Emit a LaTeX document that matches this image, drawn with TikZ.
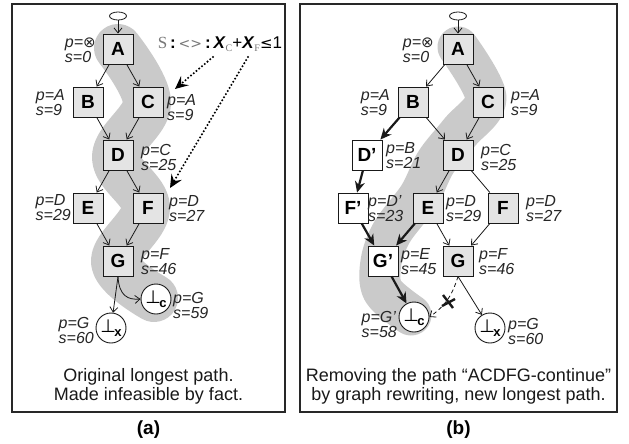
\documentclass[tikz,border=0pt]{standalone}
\usepackage{fontspec}
\setmainfont{Liberation Sans}
\newfontfamily\dejavu{DejaVu Sans}
\newfontfamily\serfont{Liberation Serif}
\usetikzlibrary{arrows.meta,shapes.geometric,calc}
\definecolor{boxgray}{RGB}{228,228,228}
\definecolor{bandgray}{RGB}{202,202,202}
\definecolor{framec}{RGB}{40,40,40}
\definecolor{txtgray}{RGB}{120,120,120}
\newcommand\perpsub[1]{{\dejavu\fontsize{18}{18}\selectfont ⊥}\kern-1.5pt\raisebox{-4pt}{\fontsize{13}{13}\selectfont\bfseries #1}}
\begin{document}
\begin{tikzpicture}[x=1pt,y=-1pt,
  box/.style={draw=black!90, line width=0.9pt, fill=boxgray, minimum size=30pt, inner sep=0pt, font=\fontsize{19}{19}\selectfont\bfseries},
  wbox/.style={box, fill=white},
  circ/.style={circle, draw=black!90, line width=0.9pt, fill=white, minimum size=30pt, inner sep=0pt},
  startnode/.style={ellipse, draw=black!90, line width=0.8pt, fill=white, minimum width=17pt, minimum height=8pt, inner sep=0pt},
  lbl/.style={inner sep=1pt, align=left, font=\fontsize{16}{15}\selectfont\itshape, text=black!85},
  edge/.style={line width=0.8pt, draw=black!90, -{Straight Barb[length=5pt,width=8pt,line width=0.8pt]}},
  plain/.style={line width=0.8pt, draw=black!90},
  thickedge/.style={line width=2.2pt, draw=black!90, -{Stealth[length=11pt,width=10pt,inset=3.5pt]}},
  dotarrow/.style={line width=2.3pt, dash pattern=on 0pt off 3.6pt, line cap=round, -{Stealth[length=13pt,width=12pt,inset=5pt,line cap=butt]}},
  band/.style={draw=bandgray, line width=48pt, line cap=round, line join=round},
  frame/.style={draw=framec, line width=1.2pt},
  caption/.style={align=center, font=\fontsize{18}{19}\selectfont, text=black!90},
  sublbl/.style={font=\fontsize{19}{19}\selectfont\bfseries}
]
\useasboundingbox (0,0) rectangle (629,444);
\fill[white] (0,0) rectangle (629,444);

% ---------- highlight bands ----------
\draw[band] plot[smooth, tension=0.6] coordinates {(118,48) (147,103) (116,157) (146,208) (115,262) (154,298)};
\draw[band, line width=41pt] plot[smooth, tension=0.55] coordinates {(458,47) (486,98) (460,132) (436,162) (419,196) (392,232) (381,262) (383,291) (411,315)};

% ---------- frames ----------
\draw[frame] (12,4) rectangle (285,412);
\draw[frame] (300,4) rectangle (617,412);

% ---------- left panel ----------
\node[startnode] (s1) at (118,16) {};
\node[box] (A1) at (118,49) {A};
\node[box] (B1) at (88,102) {B};
\node[box] (C1) at (148,102) {C};
\node[box] (D1) at (118,155) {D};
\node[box] (E1) at (88,208) {E};
\node[box] (F1) at (148,208) {F};
\node[box] (G1) at (118,261) {G};
\node[circ] (c1) at (156,299) {\perpsub{c}};
\node[circ] (x1) at (111,328) {\perpsub{x}};

\node[lbl,anchor=east] (lA1) at (97,50) {p={\dejavu\upshape\fontsize{15}{15}\selectfont ⊗}\\s=0};
\node[lbl,anchor=east] (lB1) at (66,103) {p=A\\s=9};
\node[lbl,anchor=west] (lC1) at (166,108) {p=A\\s=9};
\node[lbl,anchor=west] (lD1) at (140,157) {p=C\\s=25};
\node[lbl,anchor=east] (lE1) at (72,208) {p=D\\s=29};
\node[lbl,anchor=west] (lF1) at (168,209) {p=D\\s=27};
\node[lbl,anchor=west] (lG1) at (140,262) {p=F\\s=46};
\node[lbl,anchor=west] (lc1) at (172,305) {p=G\\s=59};
\node[lbl,anchor=east] (lx1) at (95,330) {p=G\\s=60};

\draw[edge] (s1) -- (A1);
\draw[edge] (A1) -- (B1);
\draw[edge] (A1) -- (C1);
\draw[edge] (B1) -- (D1);
\draw[edge] (C1) -- (D1);
\draw[edge] (D1) -- (E1);
\draw[edge] (D1) -- (F1);
\draw[edge] (E1) -- (G1);
\draw[edge] (F1) -- (G1);
\draw[edge] (G1.south) -- (x1);
\draw[edge] (G1.south) .. controls (119,296) and (128,300) .. (c1.west);

\node[inner sep=0pt, font=\fontsize{17}{17}\selectfont] (cons) at (220,44)
  {{\serfont\color{txtgray}S}\,\textbf{:}\,{\dejavu\color{txtgray}\fontsize{14}{14}\selectfont<>}\,\textbf{:}\,\textbf{\textit{X}}\raisebox{-3pt}{\serfont\color{txtgray}\fontsize{10}{10}\selectfont C}+\textbf{\textit{X}}\raisebox{-3pt}{\serfont\color{txtgray}\fontsize{10}{10}\selectfont F}{\dejavu\fontsize{15}{15}\selectfont ≤}1};
\coordinate (k1) at (213,57);
\coordinate (k2) at (248,57);
\coordinate (t1) at (175,89);
\coordinate (t2) at (170,188);
\draw[dotarrow] (k1) -- (t1);
\draw[dotarrow] (k2) -- (t2);

\node[caption] (cap1) at (148.5,386) {Original longest path.\\Made infeasible by fact.};
\node[sublbl] (suba) at (148.5,430) {(a)};

% ---------- right panel ----------
\node[startnode] (s2) at (458,16) {};
\node[box] (A2) at (458,49) {A};
\node[box] (B2) at (413,102) {B};
\node[box] (C2) at (488,102) {C};
\node[wbox] (Dp2) at (367,155) {D’};
\node[box] (D2) at (458,155) {D};
\node[wbox] (Fp2) at (353,208) {F’};
\node[box] (E2) at (428,208) {E};
\node[box] (F2) at (503,208) {F};
\node[wbox] (Gp2) at (383,261) {G’};
\node[box] (G2) at (458,261) {G};
\node[circ] (c2) at (414,317) {\perpsub{c}};
\node[circ] (x2) at (490,328) {\perpsub{x}};

\node[lbl,anchor=east] (lA2) at (435,50) {p={\dejavu\upshape\fontsize{15}{15}\selectfont ⊗}\\s=0};
\node[lbl,anchor=east] (lB2) at (391,103) {p=A\\s=9};
\node[lbl,anchor=west] (lC2) at (510,103) {p=A\\s=9};
\node[lbl,anchor=west] (lDp2) at (385,156) {p=B\\s=21};
\node[lbl,anchor=west] (lD2) at (480,157) {p=C\\s=25};
\node[lbl,anchor=west] (lFp2) at (367,209) {p=D’\\s=23};
\node[lbl,anchor=west] (lE2) at (445,209) {p=D\\s=29};
\node[lbl,anchor=west] (lF2) at (525,209) {p=D\\s=27};
\node[lbl,anchor=west] (lGp2) at (400,262) {p=E\\s=45};
\node[lbl,anchor=west] (lG2) at (478,262) {p=F\\s=46};
\node[lbl,anchor=east] (lc2) at (398,324) {p=G’\\s=58};
\node[lbl,anchor=west] (lx2) at (507,331) {p=G\\s=60};

\draw[edge] (s2) -- (A2);
\draw[edge] (A2) -- (B2);
\draw[edge] (A2) -- (C2);
\draw[thickedge] (B2) -- (Dp2);
\draw[edge] (B2) -- (D2);
\draw[edge] (C2) -- (D2);
\draw[thickedge] (Dp2) -- (Fp2);
\draw[edge] (D2) -- (E2);
\draw[plain] (D2) -- (F2);
\draw[thickedge] (Fp2) -- (Gp2);
\draw[thickedge] (E2) -- (Gp2);
\draw[edge] (E2) -- (G2);
\draw[edge] (F2) -- (G2);
\draw[thickedge] (Gp2) -- (c2);
\draw[edge] (G2.south) -- (x2);
\draw[edge, dash pattern=on 4pt off 3pt] (G2.south) .. controls (452,296) and (445,306) .. (c2.east);
\coordinate (xm) at (448,302);
\draw[line width=2.4pt, black!90] ($(xm)+(-5,-7)$) -- ($(xm)+(5,6)$);
\draw[line width=2.4pt, black!90] ($(xm)+(-6,4)$) -- ($(xm)+(7,-3)$);

\node[caption] (cap2) at (458.5,386) {Removing the path “ACDFG-continue”\\by graph rewriting, new longest path.};
\node[sublbl] (subb) at (458.5,430) {(b)};
\end{tikzpicture}
\end{document}
